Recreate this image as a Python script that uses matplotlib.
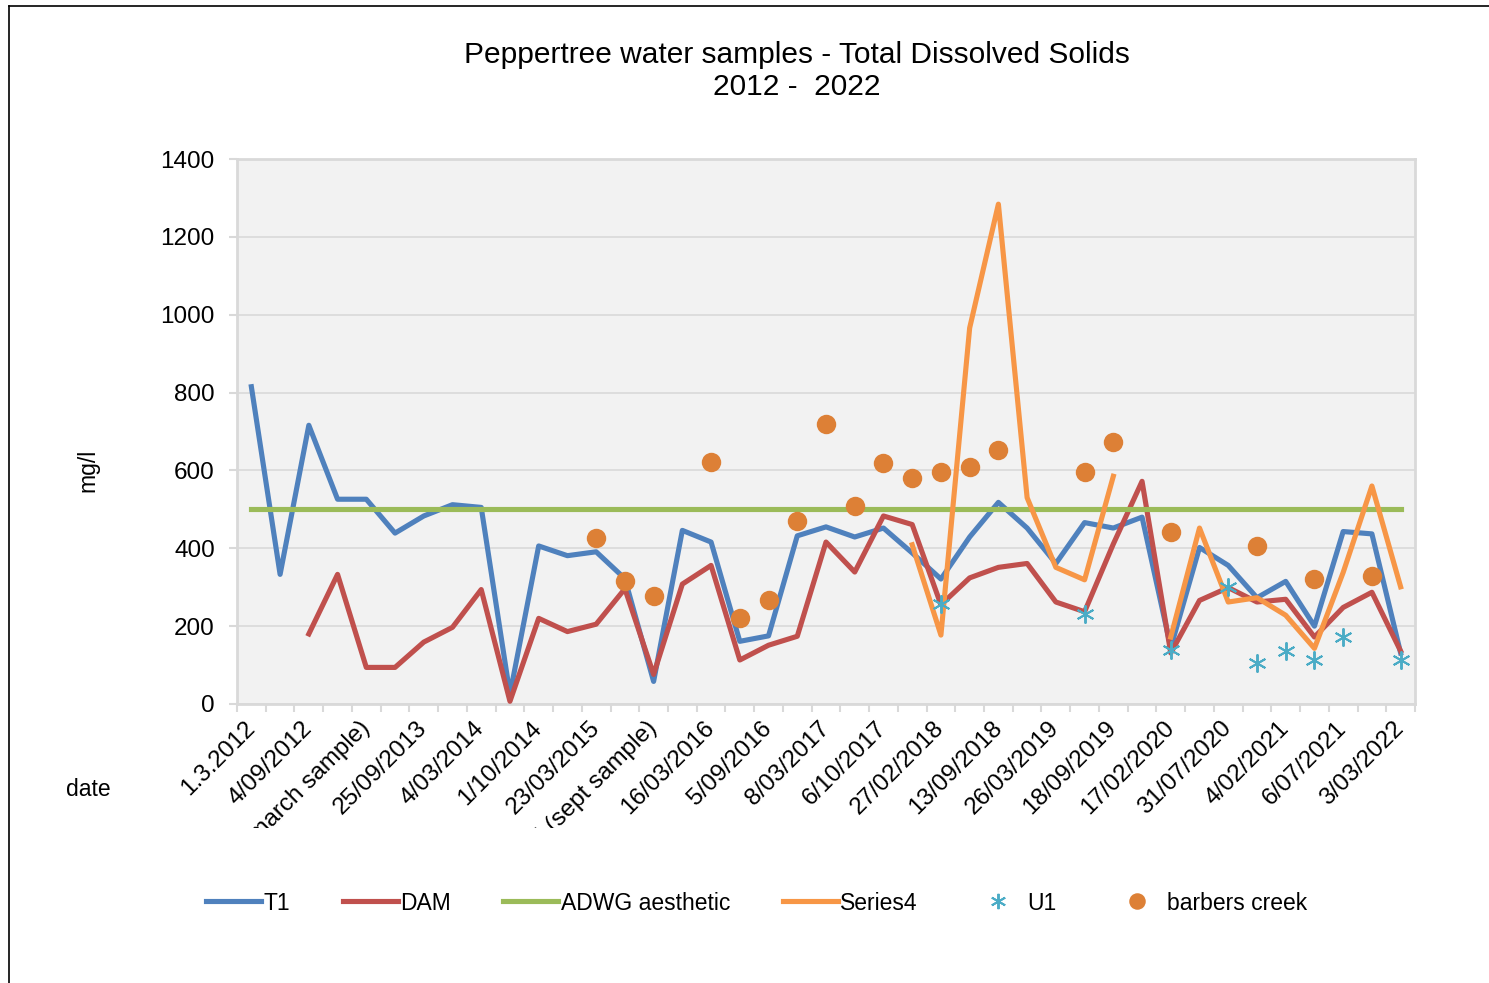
import numpy as np
import matplotlib
matplotlib.use("Agg")
import matplotlib.pyplot as plt
from matplotlib.lines import Line2D
from matplotlib.transforms import Bbox, TransformedBbox

plt.rcParams['font.family'] = ['Liberation Sans', 'DejaVu Sans']

nan = np.nan

# 41 sample dates, only every second one is labelled on the axis
n_samples = 41
tick_labels = ["1.3.2012", "4/09/2012", "18/03/2013 (march sample)", "25/09/2013",
               "4/03/2014", "1/10/2014", "23/03/2015", "28/09/2015 (sept sample)",
               "16/03/2016", "5/09/2016", "8/03/2017", "6/10/2017", "27/02/2018",
               "13/09/2018", "26/03/2019", "18/09/2019", "17/02/2020", "31/07/2020",
               "4/02/2021", "6/07/2021", "3/03/2022"]

t1 = [815, 333, 716, 526, 526, 439, 483, 512, 505, 25,
      406, 381, 391, 322, 58, 446, 416, 161, 175, 432,
      455, 429, 452, 388, 321, 429, 518, 452, 361, 466,
      452, 480, 145, 402, 356, 273, 315, 200, 443, 437, 131]

dam = [nan, nan, 180, 333, 94, 94, 159, 197, 294, 7,
       220, 186, 205, 296, 76, 308, 356, 113, 151, 174,
       416, 339, 483, 461, 255, 324, 351, 361, 262, 237,
       411, 572, 131, 266, 299, 262, 269, 172, 248, 287, 136]

adwg = [500] * n_samples

series4 = [nan] * 23 + [409, 177, 966, 1284, 530, 351, 319, 585, nan,
                        172, 452, 262, 273, 228, 143, 338, 560, 301]

u1 = [nan] * n_samples
for i, v in [(24, 257), (29, 230), (32, 140), (34, 301), (35, 106),
             (36, 136), (37, 113), (38, 171), (40, 113)]:
    u1[i] = v

barbers = [nan] * n_samples
for i, v in [(12, 426), (13, 316), (14, 277), (16, 621), (17, 220), (18, 267),
             (19, 470), (20, 720), (21, 508), (22, 620), (23, 580), (24, 596),
             (25, 608), (26, 652), (29, 596), (30, 674), (32, 442), (35, 407),
             (37, 320), (39, 329)]:
    barbers[i] = v

x = np.arange(n_samples)

fig = plt.figure(figsize=(14.89, 9.83), dpi=100)
ax = fig.add_axes([237 / 1489, 1 - 704 / 983, (1415 - 237) / 1489, (704 - 159) / 983])
ax.set_facecolor('#F2F2F2')

lw = 3.7
ax.plot(x, t1, color='#4F81BD', lw=lw, label='T1', zorder=3)
ax.plot(x, dam, color='#C0504D', lw=lw, label='DAM', zorder=4)
ax.plot(x, adwg, color='#9BBB59', lw=lw, label='ADWG aesthetic', zorder=5)
ax.plot(x, series4, color='#F79646', lw=lw, label='Series4', zorder=6)
ax.plot(x, u1, ls='none', marker=(6, 2, 0), ms=13, mew=1.4, color='#4BACC6',
        label='U1', zorder=7)
ax.plot(x, barbers, ls='none', marker='o', ms=14, color='#DD8036', mec='none',
        label='barbers creek', zorder=8)

ax.set_xlim(-0.5, n_samples - 0.5)
ax.set_ylim(0, 1400)
ax.set_yticks(np.arange(0, 1401, 200))
ax.yaxis.grid(True, color='#D9D9D9', lw=1.2)
ax.set_axisbelow(True)
for s in ax.spines.values():
    s.set_color('#D9D9D9')
    s.set_linewidth(2)

ax.tick_params(axis='y', length=6, width=1.5, color='#D9D9D9', labelsize=17.5, pad=10)
ax.set_xticks(x[::2])
ax.set_xticklabels(tick_labels, rotation=45, ha='right', va='center',
                   rotation_mode='anchor')
ax.set_xticks(np.arange(-0.5, n_samples, 1), minor=True)
ax.tick_params(axis='x', which='major', length=0, labelsize=17.5, pad=15)
ax.tick_params(axis='x', which='minor', length=6, width=1.5, color='#D9D9D9')

clip = TransformedBbox(Bbox([[0, 1 - 828 / 983], [1, 1]]), fig.transFigure)
for lab in ax.get_xticklabels():
    lab.set_clip_box(clip)
    lab.set_clip_on(True)

fig.text(0.535, 0.928, "Peppertree water samples - Total Dissolved Solids\n2012 -  2022",
         ha='center', va='center', fontsize=21.5, linespacing=1.2)
fig.text(88 / 1489, 1 - 470 / 983, "mg/l", rotation=90, ha='center', va='center', fontsize=16.5)
fig.text(88 / 1489, 1 - 790 / 983, "date", ha='center', va='center', fontsize=16.5)

handles, labels = ax.get_legend_handles_labels()
fig.legend(handles, labels, loc='center', bbox_to_anchor=(0.508, 1 - 903 / 983), ncol=6,
           frameon=False, fontsize=16.5, handlelength=2.4, handletextpad=0.1,
           columnspacing=2.3, markerscale=0.85)

# outer frame of the original screenshot
fig.add_artist(Line2D([9 / 1489, 9 / 1489], [0, 1 - 6 / 983], transform=fig.transFigure,
                      color='black', lw=1.2))
fig.add_artist(Line2D([9 / 1489, 1], [1 - 6 / 983, 1 - 6 / 983], transform=fig.transFigure,
                      color='black', lw=1.2))

fig.savefig("out.png", dpi=100)
